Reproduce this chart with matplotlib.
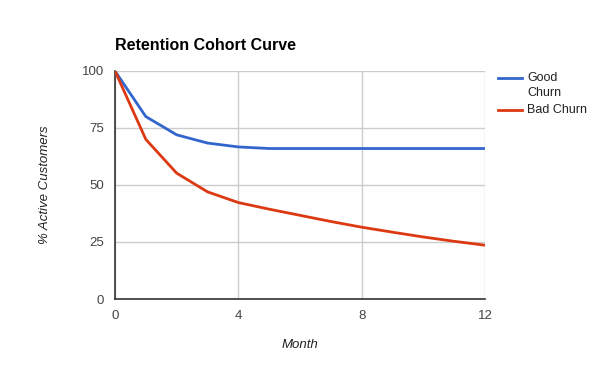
import matplotlib
matplotlib.use("Agg")
import matplotlib.pyplot as plt
from matplotlib.lines import Line2D

# data
months = [0, 1, 2, 3, 4, 5, 6, 7, 8, 9, 10, 11, 12]
good_churn = [100, 80, 72, 68.4, 66.7, 66, 66, 66, 66, 66, 66, 66, 66]
bad_churn = [100, 70, 55.2, 47, 42.3, 39.4, 36.7, 34, 31.5, 29.3, 27.2, 25.3, 23.6]
x_ticks = [0, 4, 8, 12]
y_ticks = [0, 25, 50, 75, 100]
series_names = ['Good\nChurn', 'Bad Churn']
series_colors = ['#3366cc', '#dc3912']

plt.rcParams['font.family'] = ['Liberation Sans', 'DejaVu Sans']

W, H = 600, 371
fig = plt.figure(figsize=(W / 100, H / 100), dpi=100)
ax = fig.add_axes([115/W, 1 - 299/H, 370/W, 228/H])

ax.plot(months, good_churn, color=series_colors[0], lw=2, zorder=3)
ax.plot(months, bad_churn, color=series_colors[1], lw=2, zorder=3)

ax.set_xlim(0, 12)
ax.set_ylim(0, 100)
ax.set_xticks(x_ticks)
ax.set_yticks(y_ticks)
ax.grid(True, color='#cccccc', lw=1)
ax.set_axisbelow(True)
ax.tick_params(length=0, labelsize=9.5, labelcolor='#444444', pad=8)

for side in ['top', 'right']:
    ax.spines[side].set_visible(False)
for side in ['left', 'bottom']:
    ax.spines[side].set_color('#333333')
    ax.spines[side].set_linewidth(1.2)

ax.set_xlabel('Month', fontstyle='italic', fontsize=9.5, color='#222222', labelpad=12)
ax.set_ylabel('% Active Customers', fontstyle='italic', fontsize=9.5, color='#222222', labelpad=22)

fig.text(115/W, 1 - 45/H, 'Retention Cohort Curve', fontsize=11.5, fontweight='bold',
         ha='left', va='center', color='#000000')

# legend, Google Charts style: swatch lines up with the first text line
legend_rows = [78, 110]
for name, color, ypx in zip(series_names, series_colors, legend_rows):
    fig.add_artist(Line2D([498/W, 522/W], [1 - ypx/H, 1 - ypx/H], color=color, lw=2))
    fig.text(527/W, 1 - (ypx - 6)/H, name, fontsize=9, color='#222222',
             ha='left', va='top', linespacing=1.35)

fig.savefig('out.png', dpi=100)
